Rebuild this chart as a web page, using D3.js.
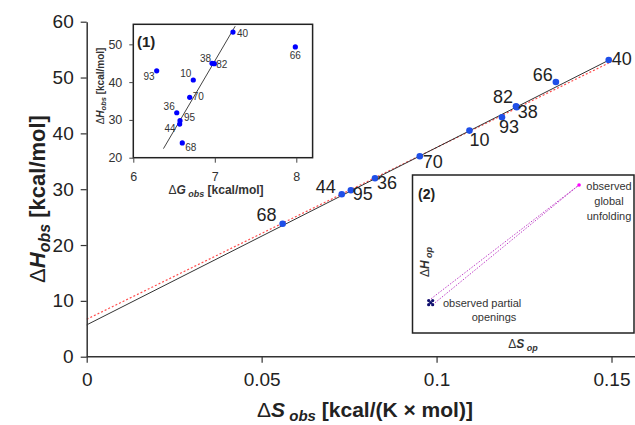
<!DOCTYPE html>
<html>
<head>
<meta charset="utf-8">
<script src="https://cdn.jsdelivr.net/npm/d3@7"></script>
<style>
body { margin: 0; background: #fff; }
svg { font-family: "Liberation Sans", Arial, sans-serif; }
</style>
</head>
<body>
<svg id="chart" width="635" height="425"></svg>
<script>
"use strict";

// main panel: dS_obs vs dH_obs, one point per residue
var residues = ["68", "44", "95", "36", "70", "10", "93", "82", "38", "66", "40"];
var dS = [0.0560, 0.0729, 0.0755, 0.0824, 0.0952, 0.1094, 0.1187, 0.1227, 0.1229, 0.1341, 0.1492];
var dH = [23.8, 29.1, 29.8, 31.95, 35.9, 40.5, 42.9, 44.85, 44.7, 49.2, 53.14];
var fitLine = [[0, 5.7], [0.1492, 53.1]];
var dotLine = [[0, 6.7], [0.1492, 52.6]];
var xTicks = [0, 0.05, 0.1, 0.15];
var yTicks = [0, 10, 20, 30, 40, 50, 60];

// inset (1): dG_obs vs dH_obs
var inResidues = ["68", "44", "95", "36", "70", "10", "93", "82", "38", "66", "40"];
var inDG = [6.601, 6.569, 6.573, 6.533, 6.692, 6.736, 6.287, 6.994, 6.966, 7.988, 7.223];
var inDH = [23.9, 28.9, 29.8, 31.9, 35.98, 40.56, 43.0, 44.87, 44.97, 49.3, 53.25];
var inLine = [[6.37, 22.4], [7.25, 54.8]];
var inXTicks = [6, 7, 8];
var inYTicks = [20, 30, 40, 50];

// inset (2): schematic, arbitrary units
var partialS = [0.073, 0.091, 0.082, 0.073, 0.091];
var partialH = [0.205, 0.205, 0.192, 0.179, 0.179];
var globalS = 0.752, globalH = 0.937;

// label offsets [dx, dy, anchor] (main)
var lab = {
	"68": [-6, -3, "end"], "44": [-6, -1, "end"], "95": [2, 10, "start"],
	"36": [2, 11, "start"], "70": [3, 12, "start"], "10": [0, 15, "start"],
	"93": [-3, 16, "start"], "82": [-3, -3, "end"], "38": [1, 11, "start"],
	"66": [-3, -1, "end"], "40": [3, 5, "start"]
};
var inLab = {
	"68": [3, 8, "start"], "44": [-4, 8, "end"], "95": [4, 0, "start"],
	"36": [-2, -3, "end"], "70": [3, 3, "start"], "10": [-2, -3, "end"],
	"93": [-2, 9, "end"], "82": [2, 4, "start"], "38": [-1, -1, "end"],
	"66": [0, 12, "middle"], "40": [4, 5, "start"]
};

var svg = d3.select("#chart");
svg.append("rect").attr("width", 635).attr("height", 425).attr("fill", "#fff");

var x = d3.scaleLinear().domain([0, 0.157]).range([86.7, 636]);
var y = d3.scaleLinear().domain([0, 60]).range([356.7, 21.7]);

var line = d3.line().x(function(d){ return x(d[0]); }).y(function(d){ return y(d[1]); });

svg.append("path").attr("d", line(dotLine))
	.attr("fill", "none").attr("stroke", "#ff4d4d").attr("stroke-width", 1.2)
	.attr("stroke-dasharray", "2,2");
svg.append("path").attr("d", line(fitLine))
	.attr("fill", "none").attr("stroke", "#333").attr("stroke-width", 1);

var gx = svg.append("g").attr("transform", "translate(0," + y(0) + ")")
	.call(d3.axisBottom(x).tickValues(xTicks).tickSize(6).tickPadding(10)
		.tickFormat(function(d){ return String(d); }));
var gy = svg.append("g").attr("transform", "translate(" + x(0) + ",0)")
	.call(d3.axisLeft(y).tickValues(yTicks).tickSize(6).tickPadding(7).tickSizeOuter(0));
gx.select(".domain").attr("d", "M" + x(0) + ",0H636");
[gx, gy].forEach(function(g){
	g.select(".domain").attr("stroke", "#333").attr("stroke-width", 1.5);
	g.selectAll(".tick line").attr("stroke", "#333").attr("stroke-width", 1.2);
	g.selectAll(".tick text").attr("font-size", 19).attr("fill", "#222")
		.attr("font-family", "Liberation Sans, Arial, sans-serif");
});

svg.selectAll(".pt").data(residues).enter().append("circle")
	.attr("class", "pt")
	.attr("cx", function(d, i){ return x(dS[i]); })
	.attr("cy", function(d, i){ return y(dH[i]); })
	.attr("r", 3.3).attr("fill", "#1f4fe8");
svg.selectAll(".ptlab").data(residues).enter().append("text")
	.attr("class", "ptlab")
	.attr("x", function(d, i){ return x(dS[i]) + lab[d][0]; })
	.attr("y", function(d, i){ return y(dH[i]) + lab[d][1]; })
	.attr("text-anchor", function(d){ return lab[d][2]; })
	.attr("font-size", 18).attr("fill", "#222")
	.text(function(d){ return d; });

// axis titles
var yt = svg.append("text").attr("transform", "translate(45,199) rotate(-90)")
	.attr("text-anchor", "middle").attr("font-size", 22).attr("font-weight", "bold").attr("fill", "#222");
yt.append("tspan").attr("font-weight", "normal").text("Δ");
yt.append("tspan").attr("font-style", "italic").text("H");
yt.append("tspan").attr("font-style", "italic").attr("font-size", 16).attr("dy", 5).text("obs");
yt.append("tspan").attr("dy", -5).text("  [kcal/mol]");

var xt = svg.append("text").attr("x", 365).attr("y", 417)
	.attr("text-anchor", "middle").attr("font-size", 21).attr("font-weight", "bold").attr("fill", "#222");
xt.append("tspan").attr("font-weight", "normal").text("Δ");
xt.append("tspan").attr("font-style", "italic").text("S");
xt.append("tspan").attr("font-style", "italic").attr("font-size", 15).attr("dy", 4).text(" obs");
xt.append("tspan").attr("dy", -4).text("  [kcal/(K × mol)]");

// ---- inset (1)
var ix = d3.scaleLinear().domain([6, 8.2]).range([133.3, 312.6]);
var iy = d3.scaleLinear().domain([20, 55.3]).range([157.7, 24.3]);
var g1 = svg.append("g");
g1.append("rect").attr("x", ix(6)).attr("y", iy(55.3))
	.attr("width", ix(8.2) - ix(6)).attr("height", iy(20) - iy(55.3))
	.attr("fill", "#fff").attr("stroke", "#222").attr("stroke-width", 1.5);

var clip = g1.append("clipPath").attr("id", "clip1");
clip.append("rect").attr("x", ix(6)).attr("y", iy(55.3))
	.attr("width", ix(8.2) - ix(6)).attr("height", iy(20) - iy(55.3));

var iline = d3.line().x(function(d){ return ix(d[0]); }).y(function(d){ return iy(d[1]); });
g1.append("path").attr("d", iline(inLine)).attr("clip-path", "url(#clip1)")
	.attr("fill", "none").attr("stroke", "#444").attr("stroke-width", 1);

var ig1 = g1.append("g").attr("transform", "translate(0," + iy(20) + ")")
	.call(d3.axisBottom(ix).tickValues(inXTicks).tickSize(5).tickPadding(9).tickSizeOuter(0)
		.tickFormat(d3.format("d")));
var ig2 = g1.append("g").attr("transform", "translate(" + ix(6) + ",0)")
	.call(d3.axisLeft(iy).tickValues(inYTicks).tickSize(4).tickPadding(7).tickSizeOuter(0));
[ig1, ig2].forEach(function(g){
	g.select(".domain").remove();
	g.selectAll(".tick line").attr("stroke", "#444");
	g.selectAll(".tick text").attr("font-size", 12.5).attr("fill", "#333")
		.attr("font-family", "Liberation Sans, Arial, sans-serif");
});

g1.selectAll(".ipt").data(inResidues).enter().append("circle")
	.attr("class", "ipt")
	.attr("cx", function(d, i){ return ix(inDG[i]); })
	.attr("cy", function(d, i){ return iy(inDH[i]); })
	.attr("r", 2.6).attr("fill", "#0000ff");
g1.selectAll(".iptlab").data(inResidues).enter().append("text")
	.attr("class", "iptlab")
	.attr("x", function(d, i){ return ix(inDG[i]) + inLab[d][0]; })
	.attr("y", function(d, i){ return iy(inDH[i]) + inLab[d][1]; })
	.attr("text-anchor", function(d){ return inLab[d][2]; })
	.attr("font-size", 10).attr("fill", "#333")
	.text(function(d){ return d; });

g1.append("text").attr("x", 137).attr("y", 47).attr("font-size", 15)
	.attr("font-weight", "bold").attr("fill", "#222").text("(1)");

var it1 = g1.append("text").attr("x", 216).attr("y", 194).attr("text-anchor", "middle")
	.attr("font-size", 12).attr("font-weight", "bold").attr("fill", "#333");
it1.append("tspan").attr("font-weight", "normal").text("Δ");
it1.append("tspan").attr("font-style", "italic").text("G");
it1.append("tspan").attr("font-style", "italic").attr("font-size", 9).attr("dy", 3).text(" obs");
it1.append("tspan").attr("dy", -3).text("  [kcal/mol]");

var it2 = g1.append("text").attr("transform", "translate(104,86) rotate(-90)")
	.attr("text-anchor", "middle").attr("font-size", 10).attr("font-weight", "bold").attr("fill", "#333");
it2.append("tspan").attr("font-weight", "normal").text("Δ");
it2.append("tspan").attr("font-style", "italic").text("H");
it2.append("tspan").attr("font-style", "italic").attr("font-size", 7.5).attr("dy", 2).text("obs");
it2.append("tspan").attr("dy", -2).text("  [kcal/mol]");

// ---- inset (2)
var sx = d3.scaleLinear().domain([0, 1]).range([412.5, 634]);
var sy = d3.scaleLinear().domain([0, 1]).range([333, 175]);
var g2 = svg.append("g");
g2.append("rect").attr("x", sx(0)).attr("y", sy(1))
	.attr("width", sx(1) - sx(0)).attr("height", sy(0) - sy(1))
	.attr("fill", "#fff").attr("stroke", "#222").attr("stroke-width", 1.5);

[0, 4].forEach(function(k){
	g2.append("line")
		.attr("x1", sx(partialS[k])).attr("y1", sy(partialH[k]))
		.attr("x2", sx(globalS)).attr("y2", sy(globalH))
		.attr("stroke", "#c040c8").attr("stroke-width", 1)
		.attr("stroke-dasharray", "1.5,1.5");
});
g2.selectAll(".pp").data(partialS).enter().append("circle")
	.attr("cx", function(d){ return sx(d); })
	.attr("cy", function(d, i){ return sy(partialH[i]); })
	.attr("r", 1.6).attr("fill", "#10106e");
g2.append("circle").attr("cx", sx(globalS)).attr("cy", sy(globalH))
	.attr("r", 1.8).attr("fill", "#ff00ff");

g2.append("text").attr("x", 418).attr("y", 199).attr("font-size", 14)
	.attr("font-weight", "bold").attr("fill", "#222").text("(2)");

var gl = g2.append("text").attr("text-anchor", "middle").attr("font-size", 11).attr("fill", "#333");
["observed", "global", "unfolding"].forEach(function(s, i){
	gl.append("tspan").attr("x", 609).attr("y", 190 + i * 15).text(s);
});
g2.append("text").attr("x", 443).attr("y", 307).attr("font-size", 11).attr("fill", "#333")
	.text("observed partial");
g2.append("text").attr("x", 494).attr("y", 321).attr("text-anchor", "middle")
	.attr("font-size", 11).attr("fill", "#333").text("openings");

var st = g2.append("text").attr("x", 523).attr("y", 348).attr("text-anchor", "middle")
	.attr("font-size", 12).attr("font-weight", "bold").attr("fill", "#333");
st.append("tspan").attr("font-weight", "normal").text("Δ");
st.append("tspan").attr("font-style", "italic").text("S");
st.append("tspan").attr("font-style", "italic").attr("font-size", 9).attr("dy", 3).text(" op");

var ht = g2.append("text").attr("transform", "translate(429,262) rotate(-90)")
	.attr("text-anchor", "middle").attr("font-size", 12).attr("font-weight", "bold").attr("fill", "#333");
ht.append("tspan").attr("font-weight", "normal").text("Δ");
ht.append("tspan").attr("font-style", "italic").text("H");
ht.append("tspan").attr("font-style", "italic").attr("font-size", 9).attr("dy", 3).text(" op");
</script>
</body>
</html>
